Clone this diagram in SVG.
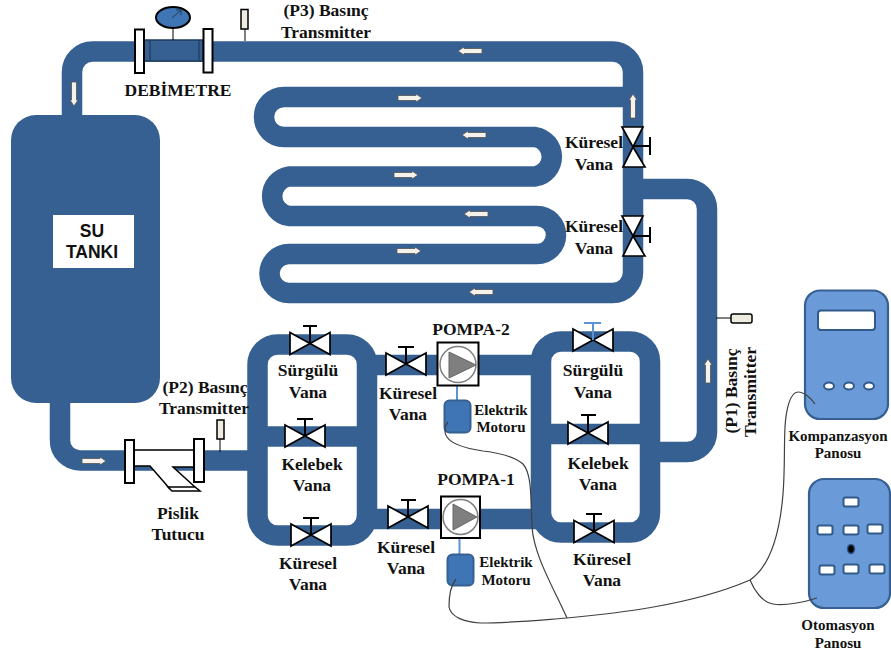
<svg xmlns="http://www.w3.org/2000/svg" xmlns:xlink="http://www.w3.org/1999/xlink" width="891" height="654" viewBox="0 0 891 654">
<style>
.pipe{fill:none;stroke:#376092;stroke-width:20.5}
.wire{fill:none;stroke:#404040;stroke-width:1.2}
.vb1{fill:#fff;stroke:#000;stroke-width:1.7;stroke-linejoin:miter}
.vs{fill:none;stroke:#000;stroke-width:2}
.vb{fill:none;stroke:#5b94d6;stroke-width:2}
.fl{fill:#fff;stroke:#000;stroke-width:2}
.tr{fill:#eeece1;stroke:#000;stroke-width:1.5}
.ar{fill:#f4f2ea;stroke:#555;stroke-width:.8}
.pb{fill:#fff;stroke:#000;stroke-width:2}
.pc{fill:#fff;stroke:#7f7f7f;stroke-width:1.5}
.pt{fill:#7f7f7f;stroke:#666;stroke-width:1}
.m{fill:#3f74b5;stroke:#376092;stroke-width:2}
.pn{fill:#6a9bd8;stroke:#376092;stroke-width:2.2}
.bt{fill:#fff;stroke:#2f5a8a;stroke-width:2}
text{font-family:"Liberation Serif","Times New Roman",serif;font-weight:bold;font-size:17.5px;fill:#111;text-anchor:middle}
.s{font-size:15px}
.t{font-family:"Liberation Sans",Arial,sans-serif;font-size:17.5px}
</style>
<defs>
<polygon id="arrow" class="ar" points="-12,-2.5 6,-2.5 6,-4 12,0 6,4 6,2.5 -12,2.5"/>
<g id="valve"><polygon class="vb1" fill="#fff" points="-20,-11 0,0 -20,11"/><polygon class="vb1" fill="#fff" points="20,-11 0,0 20,11"/></g>
<g id="valve-v"><polygon class="vb1" fill="#fff" points="-11,-20 10,-20 0,0"/><polygon class="vb1" fill="#fff" points="-10,20 12,20 0,0"/></g>
</defs>

<g id="connectors">
<path class="pipe" d="M72 118V72A20.500 20.500 0 0 1 92.500 51.500H612.500A20.500 20.500 0 0 1 633 72V272A20.500 20.500 0 0 1 612.500 293H289A19.500 19.500 0 0 1 289 254H537A19 19 0 0 0 537 216H289A20 20 0 0 1 289 176.500H535A20 20 0 0 0 535 137H284A20 20 0 0 1 284 97H633"/>
<path class="pipe" d="M633 189H687A20 20 0 0 1 707 209V432A20 20 0 0 1 687 452H650"/>
<path class="pipe" d="M60 400V440A20 20 0 0 0 80 460.500H250"/>
<rect class="pipe" x="257.500" y="344.500" width="109.500" height="191" rx="20"/>
<path class="pipe" d="M257 436.500H367"/>
<rect class="pipe" x="541" y="341.500" width="109" height="191" rx="20"/>
<path class="pipe" d="M541 434H650"/>
<path class="pipe" d="M367 365H541"/>
<path class="pipe" d="M367 519H541"/>
<path class="vb" d="M457 385V400M459.500 538V555"/>
</g>

<g id="tank"><rect x="11" y="115" width="149" height="288" rx="25" fill="#376092"/><rect x="53" y="215" width="81" height="53" fill="#fff"/><text class="t" x="92" y="237">SU</text><text class="t" x="92" y="258">TANKI</text></g>

<g id="debimetre">
<rect x="144" y="40" width="59" height="21" fill="#376092" stroke="#1f3a5c" stroke-width="1.500"/>
<path d="M150 40V61M199 40V61" stroke="#1f3a5c" stroke-width="1.200"/>
<rect class="fl" x="135" y="29.500" width="9" height="43.500"/><rect class="fl" x="203.500" y="29" width="9" height="43.500"/>
<path d="M173 28V40" stroke="#000" stroke-width="1"/>
<ellipse cx="173" cy="17.500" rx="17" ry="10.500" fill="#3f74b5" stroke="#000" stroke-width="2"/>
<path d="M172 18L181 10M176 10H181V15" fill="none" stroke="#1f3a5c" stroke-width="1"/>
<text x="178" y="96">DEBİMETRE</text></g>

<g id="p3"><path d="M245 29V41" stroke="#000"/><rect class="tr" x="241" y="9.500" width="7" height="19.500"/><text x="326" y="16">(P3) Basınç</text><text x="326" y="38">Transmitter</text></g>
<g id="p2"><path d="M220 439V452" stroke="#000"/><rect class="tr" x="217" y="420" width="7" height="19"/><text x="205" y="393">(P2) Basınç</text><text x="204" y="414">Transmitter</text></g>
<g id="p1"><path d="M716 318H731" stroke="#000"/><rect class="tr" x="731" y="314" width="21" height="9" rx="2"/><text transform="translate(737 391) rotate(-90)">(P1) Basınç</text><text transform="translate(756 392) rotate(-90)">Transmitter</text></g>

<g id="strainer">
<polygon points="134,450 194,450 194,467 173,467 195,487 170,490 150,466 134,466" fill="#fff"/>
<path d="M134 450H194M134 466H150L170 489M194 467H173L195 487" fill="none" stroke="#000" stroke-width="1.500"/>
<polygon points="168,487 195,487 200,491 172,491" fill="#fff" stroke="#000" stroke-width="1.500"/>
<rect class="fl" x="125" y="440" width="9" height="43"/><rect class="fl" x="194" y="439" width="10" height="43"/>
<text x="178" y="519">Pislik</text><text x="178" y="540">Tutucu</text></g>

<g id="arrows">
<use xlink:href="#arrow" href="#arrow" transform="translate(410 98)"/>
<use xlink:href="#arrow" href="#arrow" transform="translate(406 175)"/>
<use xlink:href="#arrow" href="#arrow" transform="translate(409 251)"/>
<use xlink:href="#arrow" href="#arrow" transform="translate(470 51) rotate(180)"/>
<use xlink:href="#arrow" href="#arrow" transform="translate(474 135) rotate(180)"/>
<use xlink:href="#arrow" href="#arrow" transform="translate(476 214) rotate(180)"/>
<use xlink:href="#arrow" href="#arrow" transform="translate(481 292) rotate(180)"/>
<use xlink:href="#arrow" href="#arrow" transform="translate(74 94) rotate(90)"/>
<use xlink:href="#arrow" href="#arrow" transform="translate(633 106) rotate(-90)"/>
<use xlink:href="#arrow" href="#arrow" transform="translate(94 461)"/>
<use xlink:href="#arrow" href="#arrow" transform="translate(708 371) rotate(-90)"/>
</g>

<g id="vana-k1"><use xlink:href="#valve-v" href="#valve-v" transform="translate(633 147)"/><path class="vs" d="M633 146H650M650 137V155"/><text x="594" y="148">Küresel</text><text x="594" y="170">Vana</text></g>
<g id="vana-k2"><use xlink:href="#valve-v" href="#valve-v" transform="translate(633 236)"/><path class="vs" d="M633 236H650M650 227V243"/><text x="594" y="232">Küresel</text><text x="594" y="254">Vana</text></g>

<g id="vana-l1"><use xlink:href="#valve" href="#valve" transform="translate(310 343.500)"/><path class="vs" d="M310 343V326M303 326H317"/><text x="308" y="376">Sürgülü</text><text x="308" y="398">Vana</text></g>
<g id="vana-l2"><use xlink:href="#valve" href="#valve" transform="translate(305 436)"/><path class="vs" d="M305 436V419M297 419H313"/><text x="312" y="470">Kelebek</text><text x="312" y="491">Vana</text></g>
<g id="vana-l3"><use xlink:href="#valve" href="#valve" transform="translate(311 535)"/><path class="vs" d="M311 535V518M303 518H319"/><text x="308" y="569">Küresel</text><text x="308" y="590">Vana</text></g>
<g id="vana-p2"><use xlink:href="#valve" href="#valve" transform="translate(406 364)"/><path class="vs" d="M406 364V347M398 347H414"/><text x="408" y="399">Küresel</text><text x="408" y="420">Vana</text></g>
<g id="vana-p1"><use xlink:href="#valve" href="#valve" transform="translate(408 517)"/><path class="vs" d="M408 517V500M401 500H416"/><text x="406" y="553">Küresel</text><text x="406" y="574">Vana</text></g>
<g id="vana-r1"><use xlink:href="#valve" href="#valve" transform="translate(593 340)"/><path class="vb" d="M593 340V323M584 323H601"/><text x="593" y="376">Sürgülü</text><text x="593" y="398">Vana</text></g>
<g id="vana-r2"><use xlink:href="#valve" href="#valve" transform="translate(588 433)"/><path class="vs" d="M588 433V415M581 415H596"/><text x="598" y="469">Kelebek</text><text x="598" y="490">Vana</text></g>
<g id="vana-r3"><use xlink:href="#valve" href="#valve" transform="translate(594 531.500)"/><path class="vs" d="M594 531V514M586 514H602"/><text x="602" y="565">Küresel</text><text x="602" y="586">Vana</text></g>

<g id="pompa-2"><rect class="pb" x="437.500" y="342.500" width="41" height="43"/><circle class="pc" cx="458" cy="364.500" r="18"/><polygon class="pt" points="449,352 449,378 476,365"/><text x="471" y="335">POMPA-2</text></g>
<g id="pompa-1"><rect class="pb" x="441" y="496.500" width="39" height="41.500"/><circle class="pc" cx="460.500" cy="517" r="17.500"/><polygon class="pt" points="453,504 453,530 477,517"/><text x="476" y="485">POMPA-1</text></g>
<g id="motor-2"><rect class="m" x="444.500" y="400.500" width="26" height="32" rx="5"/><text class="s" x="501" y="415">Elektrik</text><text class="s" x="501" y="432">Motoru</text></g>
<g id="motor-1"><rect class="m" x="447.500" y="554.500" width="26" height="31" rx="5"/><text class="s" x="506" y="567">Elektrik</text><text class="s" x="506" y="585">Motoru</text></g>

<g id="kompanzasyon"><rect class="pn" x="805" y="290.500" width="83" height="128.500" rx="15"/><rect class="bt" x="818" y="310.500" width="57" height="19.500" rx="3"/><ellipse class="bt" cx="829" cy="386" rx="5" ry="3.500"/><ellipse class="bt" cx="849" cy="386" rx="5" ry="3.500"/><ellipse class="bt" cx="869" cy="386" rx="5" ry="3.500"/><text class="s" x="838" y="441">Kompanzasyon</text><text class="s" x="838" y="458">Panosu</text></g>
<g id="otomasyon"><rect class="pn" x="809" y="479" width="81" height="129" rx="15"/>
<rect class="bt" x="843.500" y="497.500" width="15" height="9" rx="2"/><rect class="bt" x="817.500" y="525.500" width="15" height="9" rx="2"/><rect class="bt" x="843.500" y="525.500" width="15" height="9" rx="2"/><rect class="bt" x="867.500" y="524.500" width="15" height="9" rx="2"/><rect class="bt" x="819.500" y="565.500" width="15" height="9" rx="2"/><rect class="bt" x="843.500" y="564.500" width="15" height="9" rx="2"/><rect class="bt" x="869.500" y="564.500" width="15" height="9" rx="2"/>
<ellipse cx="851" cy="549" rx="3.500" ry="4.500" fill="#000" stroke="#2f5a8a" stroke-width="1.500"/><text class="s" x="838" y="630">Otomasyon</text><text class="s" x="838" y="648">Panosu</text></g>

<g id="wires">
<path class="wire" d="M448 422C444 426 444 433 447 437C452 445 470 449 483 451C500 453 514 456 523 464C530 472 531 485 532 527C534 555 552 585 567 618"/>
<path class="wire" d="M456 579C451 585 449 595 449 607C451 617 464 622 480 623C510 623 540 620 567 618C610 614 690 606 750 580C772 565 780 530 783 494C785 470 784 445 785 427C786 410 790 392 798 392C804 392 811 398 815 404"/>
<path class="wire" d="M750 580C754 590 762 602 773 604C785 606 805 602 817 598"/>
</g>
</svg>
